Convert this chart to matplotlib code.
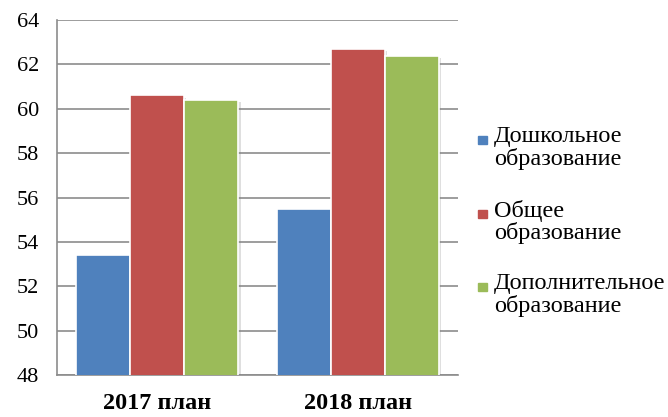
import numpy as np
import matplotlib.pyplot as plt
import matplotlib.patheffects as pe
from matplotlib.patches import Rectangle

categories = ['2017 план', '2018 план']
series = ['Дошкольное\nобразование', 'Общее\nобразование', 'Дополнительное\nобразование']
values = [
    [53.4, 55.5],
    [60.6, 62.7],
    [60.4, 62.4],
]
colors = ['#4F81BD', '#C0504D', '#9BBB59']

plt.rcParams['font.family'] = ['Liberation Serif', 'DejaVu Serif']

fig = plt.figure(figsize=(6.68, 4.17), dpi=100)
ax = fig.add_axes([0.0853, 0.1007, 0.6003, 0.8513])

x = np.arange(len(categories))
width = 0.27
shadow = [pe.SimplePatchShadow(offset=(1.5, -1.5), shadow_rgbFace='gray', alpha=0.25), pe.Normal()]
for i, (vals, col) in enumerate(zip(values, colors)):
    ax.bar(x + (i - 1) * width, vals, width, color=col, edgecolor='white',
           linewidth=1.2, zorder=3, path_effects=shadow)

ax.set_xlim(-0.5, 1.5)
ax.set_ylim(48, 64)
ax.set_yticks(np.arange(48, 65, 2))
ax.set_xticks(x)
ax.set_xticklabels(categories, fontsize=17.5, fontweight='bold')
ax.tick_params(axis='x', length=0, pad=13)
ax.tick_params(axis='y', length=0, pad=13, labelsize=16)
ax.grid(axis='y', color='#8c8c8c', linewidth=1.2, zorder=0)
for s in ['top', 'right']:
    ax.spines[s].set_visible(False)
for s in ['left', 'bottom']:
    ax.spines[s].set_color('#8c8c8c')
    ax.spines[s].set_linewidth(1.2)

# legend drawn by hand so the marker sits on the first line of each label
y0 = 1 - 126 / 417
step = 73.5 / 417
for i, (label, col) in enumerate(zip(series, colors)):
    yy = y0 - i * step
    fig.patches.append(Rectangle((478 / 668, yy - 18 / 417), 9 / 668, 8 / 417,
                                 transform=fig.transFigure, color=col))
    fig.text(494 / 668, yy, label, fontsize=17.5, va='top', ha='left', linespacing=1.05)

fig.savefig('out.png', dpi=100)
